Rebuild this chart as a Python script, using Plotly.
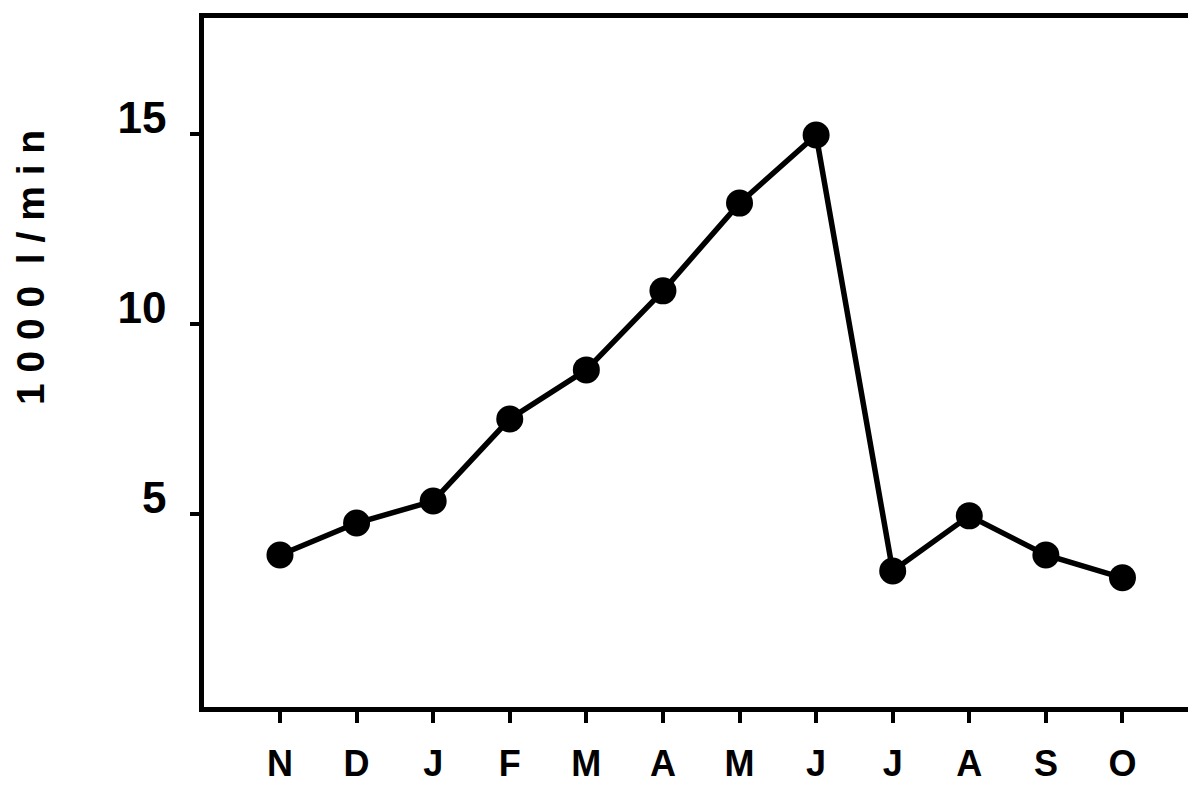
import plotly.graph_objects as go

months = ["Nov", "Dec", "Jan", "Feb", "Mar", "Apr", "May", "Jun", "Jul", "Aug", "Sep", "Oct"]
month_labels = ["N", "D", "J", "F", "M", "A", "M", "J", "J", "A", "S", "O"]
flow = [3.92, 4.76, 5.34, 7.5, 8.79, 10.87, 13.18, 14.97, 3.5, 4.95, 3.92, 3.32]
y_ticks = [5, 10, 15]
y_title = "1 0 0 0  l / m i n"

fig = go.Figure()
fig.add_trace(go.Scatter(
    x=months, y=flow, mode="lines+markers",
    line=dict(color="black", width=5.5),
    marker=dict(color="black", size=27),
    cliponaxis=False,
))

fig.update_layout(
    width=1188, height=778,
    margin=dict(l=196, r=0, t=10, b=79, autoexpand=False),
    paper_bgcolor="white", plot_bgcolor="white",
    showlegend=False,
    font=dict(family="Liberation Sans, Arial, sans-serif", color="black"),
)
fig.update_xaxes(
    type="category", categoryorder="array", categoryarray=months,
    tickvals=months, ticktext=month_labels,
    range=[-0.992, 11.96],
    automargin=False,
    showgrid=False, zeroline=False,
    showline=True, linecolor="black", linewidth=4.5, mirror=True,
    ticks="outside", ticklen=11, tickwidth=4, tickcolor="black",
    tickfont=dict(family="Liberation Sans Narrow, Liberation Sans, Arial", size=36, color="black", weight="bold"),
    ticklabelstandoff=10,
)
fig.update_yaxes(
    range=[-0.08, 18.05],
    tickvals=y_ticks, ticktext=[str(v) for v in y_ticks],
    automargin=False,
    showgrid=False, zeroline=False,
    showline=True, linecolor="black", linewidth=4.5,
    ticks="outside", ticklen=9, tickwidth=4, tickcolor="black",
    tickfont=dict(family="Liberation Sans, Arial", size=44, color="black", weight="bold"),
    ticklabelshift=-16,
    ticklabelstandoff=15,
)
fig.add_annotation(
    text=y_title, xref="paper", yref="paper",
    x=-0.1754, y=0.637, showarrow=False, textangle=-90,
    font=dict(family="Liberation Sans, Arial", size=39, color="black", weight="bold"),
    xanchor="center", yanchor="middle",
)
fig.write_html("out.html")
